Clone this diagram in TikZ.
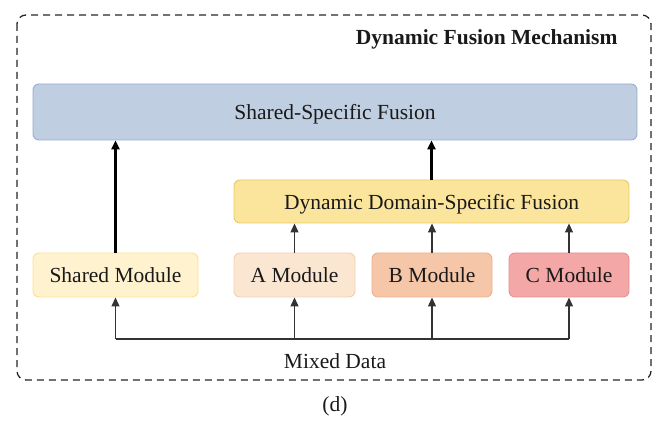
\documentclass[tikz,border=0pt]{standalone}
\usepackage{fontspec}
\setmainfont{Liberation Serif}
\usepackage{xcolor}
\usetikzlibrary{positioning,arrows.meta}

\definecolor{ssfFill}{HTML}{BFCEE0}
\definecolor{ssfLine}{HTML}{94AED0}
\definecolor{ddsfFill}{HTML}{FBE49C}
\definecolor{ddsfLine}{HTML}{EBCB5C}
\definecolor{sharedFill}{HTML}{FFF2CE}
\definecolor{sharedLine}{HTML}{FDE18C}
\definecolor{aFill}{HTML}{FBE6D2}
\definecolor{aLine}{HTML}{F6CFAC}
\definecolor{bFill}{HTML}{F5C6A8}
\definecolor{bLine}{HTML}{F0B08A}
\definecolor{cFill}{HTML}{F3A7A7}
\definecolor{cLine}{HTML}{EA8F8F}

\begin{document}
\begin{tikzpicture}[
  x=1pt, y=-1pt,
  box/.style={rectangle, rounded corners=6pt, line width=0.9pt, text depth=0pt,
              font=\fontsize{21.5}{25}\selectfont, text=black!90, inner sep=0pt},
  bigarrow/.style={-{Triangle[length=9pt, width=8pt]}, line width=2.4pt, black},
  smallarrow/.style={-{Triangle[length=9pt, width=8pt]}, line width=1.1pt, black!80},
  busline/.style={line width=1.1pt, black!80},
  label/.style={font=\fontsize{21.5}{25}\selectfont, text=black!90}
]
\useasboundingbox (0,0) rectangle (666,427);

% Frame
\draw[dashed, dash pattern=on 7pt off 5pt, line width=1.3pt, black!85, rounded corners=9pt]
  (17,15) rectangle (651,380);
\node[label, font=\fontsize{21.5}{25}\selectfont\bfseries, anchor=east] (title) at (621,39) {Dynamic Fusion Mechanism};

% Boxes
\node[box, fill=ssfFill, draw=ssfLine, minimum width=604pt, minimum height=56pt] (ssf) at (335,112) {Shared-Specific Fusion};
\node[box, fill=ddsfFill, draw=ddsfLine, minimum width=395pt, minimum height=43pt] (ddsf) at (431.5,201.5) {Dynamic Domain-Specific Fusion};
\node[box, fill=sharedFill, draw=sharedLine, minimum width=165pt, minimum height=44pt] (shared) at (115.5,275) {Shared Module};
\node[box, fill=aFill, draw=aLine, minimum width=121pt, minimum height=44pt] (moda) at (294.5,275) {A Module};
\node[box, fill=bFill, draw=bLine, minimum width=120pt, minimum height=44pt] (modb) at (432,275) {B Module};
\node[box, fill=cFill, draw=cLine, minimum width=120pt, minimum height=44pt] (modc) at (569,275) {C Module};

% Arrows
\draw[bigarrow] (shared.north) -- (shared.north |- ssf.south);
\draw[bigarrow] (ddsf.north) -- (ddsf.north |- ssf.south);
\draw[smallarrow] (moda.north) -- (moda.north |- ddsf.south);
\draw[smallarrow] (modb.north) -- (modb.north |- ddsf.south);
\draw[smallarrow] (modc.north) -- (modc.north |- ddsf.south);

% Input bus
\coordinate (bus) at (0,339);
\draw[busline] (shared.south |- bus) -- (modc.south |- bus);
\draw[smallarrow] (shared.south |- bus) -- (shared.south);
\draw[smallarrow] (moda.south |- bus) -- (moda.south);
\draw[smallarrow] (modb.south |- bus) -- (modb.south);
\draw[smallarrow] (modc.south |- bus) -- (modc.south);

% Labels
\node[label] (mixed) at (335,361) {Mixed Data};
\node[label] (caption) at (335,406) {(d)};
\end{tikzpicture}
\end{document}
